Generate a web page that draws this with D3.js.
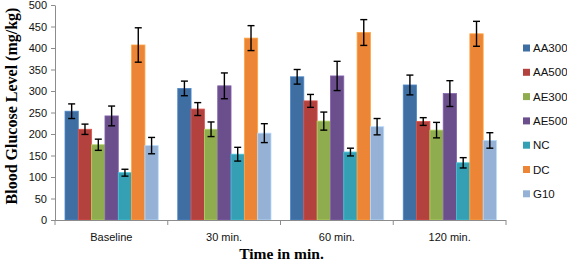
<!DOCTYPE html>
<html>
<head>
<meta charset="utf-8">
<script src="https://cdn.jsdelivr.net/npm/d3@7"></script>
<style>
  body { margin: 0; background: #fff; }
  .tick text { font-family: "Liberation Sans", Arial, sans-serif; font-size: 11px; fill: #111; }
  .axis path, .axis line { stroke: #8c8c8c; }
</style>
</head>
<body>
<svg id="chart"></svg>
<script>
// Data
const categories = ['Baseline', '30 min.', '60 min.', '120 min.'];
const series = ['AA300', 'AA500', 'AE300', 'AE500', 'NC', 'DC', 'G10'];
const colors = ['#3f6ea3', '#b3423f', '#8fac4f', '#6b4f8c', '#35a0b3', '#ec8536', '#95b2d6'];
// values per series, in category order
const AA300 = [253, 306, 333, 314];
const AA500 = [211, 258, 277, 229];
const AE300 = [175, 211, 230, 209];
const AE500 = [242, 312, 335, 294];
const NC    = [110, 153, 158, 133];
const DC    = [407, 423, 436, 433];
const G10   = [173, 202, 217, 185];
// error (+/-) per series
const AA300_err = [17, 17, 17, 23];
const AA500_err = [12, 15, 15, 9];
const AE300_err = [13, 17, 21, 18];
const AE500_err = [23, 30, 34, 30];
const NC_err    = [8, 16, 9, 12];
const DC_err    = [40, 29, 30, 29];
const G10_err   = [19, 22, 19, 18];
const yTicks = [0, 50, 100, 150, 200, 250, 300, 350, 400, 450, 500];

const values = [AA300, AA500, AE300, AE500, NC, DC, G10];
const errors = [AA300_err, AA500_err, AE300_err, AE500_err, NC_err, DC_err, G10_err];

const width = 567, height = 262;
const margin = { top: 5, right: 61, bottom: 42, left: 55 };
const innerW = width - margin.left - margin.right;
const innerH = height - margin.top - margin.bottom;

const svg = d3.select('#chart').attr('width', width).attr('height', height);
const chartArea = svg.append('g')
    .attr('transform', `translate(${margin.left},${margin.top})`);

const xScale = d3.scaleBand().domain(categories).range([0, innerW]);
const xSub = d3.scaleBand().domain(series).range([10, xScale.bandwidth() - 9.5]);
const yScale = d3.scaleLinear().domain([0, 500]).range([innerH, 0]);
const colour = d3.scaleOrdinal().domain(series).range(colors);

// flatten into rows
const rows = [];
series.forEach((s, i) => {
  categories.forEach((c, j) => {
    rows.push({ series: s, cat: c, value: values[i][j], err: errors[i][j] });
  });
});

// bars
chartArea.selectAll('.bar')
  .data(rows)
  .join('rect')
  .attr('class', 'bar')
  .attr('x', d => xScale(d.cat) + xSub(d.series))
  .attr('y', d => yScale(d.value))
  .attr('width', xSub.bandwidth())
  .attr('height', d => innerH - yScale(d.value))
  .attr('fill', d => colour(d.series))
  .attr('stroke', d => d3.color(colour(d.series)).brighter(0.6))
  .attr('stroke-width', 0.8);

// error bars
const eb = chartArea.selectAll('.err')
  .data(rows)
  .join('g')
  .attr('class', 'err')
  .attr('stroke', '#000')
  .attr('stroke-width', 1.4);
const cx = d => xScale(d.cat) + xSub(d.series) + xSub.bandwidth() / 2;
eb.append('line')
  .attr('x1', cx).attr('x2', cx)
  .attr('y1', d => yScale(d.value + d.err))
  .attr('y2', d => yScale(d.value - d.err));
eb.append('line')
  .attr('x1', d => cx(d) - 3.5).attr('x2', d => cx(d) + 3.5)
  .attr('y1', d => yScale(d.value + d.err)).attr('y2', d => yScale(d.value + d.err));
eb.append('line')
  .attr('x1', d => cx(d) - 3.5).attr('x2', d => cx(d) + 3.5)
  .attr('y1', d => yScale(d.value - d.err)).attr('y2', d => yScale(d.value - d.err));

// y axis
chartArea.append('g')
  .attr('class', 'axis y-axis')
  .call(d3.axisLeft(yScale).tickValues(yTicks).tickSize(4).tickSizeOuter(0).tickPadding(4));

// x axis: ticks at category boundaries
const xAxisG = chartArea.append('g')
  .attr('class', 'axis x-axis')
  .attr('transform', `translate(0,${innerH})`);
xAxisG.append('line')
  .attr('x1', 0).attr('x2', innerW).attr('y1', 0.5).attr('y2', 0.5)
  .attr('stroke', '#8c8c8c');
xAxisG.selectAll('.sep')
  .data(d3.range(categories.length + 1))
  .join('line')
  .attr('class', 'sep')
  .attr('x1', i => i * xScale.bandwidth()).attr('x2', i => i * xScale.bandwidth())
  .attr('y1', 0).attr('y2', 5)
  .attr('stroke', '#8c8c8c');
xAxisG.selectAll('.tick')
  .data(categories)
  .join('g')
  .attr('class', 'tick')
  .append('text')
  .attr('x', d => xScale(d) + xScale.bandwidth() / 2)
  .attr('y', 21)
  .attr('text-anchor', 'middle')
  .text(d => d);

// axis titles
chartArea.append('text')
  .attr('transform', 'rotate(-90)')
  .attr('x', -101)
  .attr('y', -margin.left + 17)
  .attr('text-anchor', 'middle')
  .style('font-family', '"Liberation Serif", "Times New Roman", serif')
  .style('font-weight', 'bold')
  .style('font-size', '16px')
  .text('Blood Glucose Level (mg/kg)');

chartArea.append('text')
  .attr('x', innerW / 2 + 1)
  .attr('y', innerH + 39)
  .attr('text-anchor', 'middle')
  .style('font-family', '"Liberation Serif", "Times New Roman", serif')
  .style('font-weight', 'bold')
  .style('font-size', '15.5px')
  .text('Time in min.');

// legend
const legend = svg.append('g').attr('transform', 'translate(523,48)');
const item = legend.selectAll('.item')
  .data(series)
  .join('g')
  .attr('class', 'item')
  .attr('transform', (d, i) => `translate(0,${i * 24.3})`);
item.append('rect')
  .attr('x', 0).attr('y', -3.5).attr('width', 7).attr('height', 7)
  .attr('fill', d => colour(d));
item.append('text')
  .attr('x', 10).attr('y', 4)
  .style('font-family', '"Liberation Sans", Arial, sans-serif')
  .style('font-size', '11.5px')
  .attr('fill', '#111')
  .text(d => d);
</script>
</body>
</html>
